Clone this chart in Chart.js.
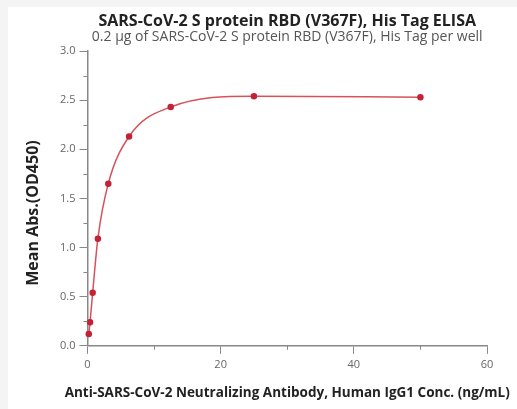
<!DOCTYPE html>
<html>
<head>
<meta charset="utf-8">
<script src="https://cdn.jsdelivr.net/npm/chart.js@4"></script>
<style>
  body { margin: 0; background: #f4f4f4; }
  #wrap { position: absolute; left: 8px; top: 7px; width: 509px; height: 402px; background: #fff; }
</style>
</head>
<body>
<div id="wrap"><canvas id="elisa" width="509" height="402"></canvas></div>
<script>
// antibody concentration (ng/mL) and mean OD450
const conc = [0.195, 0.39, 0.78, 1.5625, 3.125, 6.25, 12.5, 25, 50];
const od450 = [0.12, 0.24, 0.54, 1.09, 1.65, 2.13, 2.43, 2.54, 2.53];
const xTicks = [0, 20, 40, 60];
const yTicks = [0.0, 0.5, 1.0, 1.5, 2.0, 2.5, 3.0];

const titleText = 'SARS-CoV-2 S protein RBD (V367F), His Tag ELISA';
const subText = '0.2 \u00b5g of SARS-CoV-2 S protein RBD (V367F), His Tag per well';
const yTitle = 'Mean Abs.(OD450)';
const xTitle = 'Anti-SARS-CoV-2 Neutralizing Antibody, Human IgG1 Conc. (ng/mL)';

const isMajorY = v => yTicks.some(t => Math.abs(t - v) < 1e-6);
const isMajorX = v => xTicks.includes(v);

// titles (the x title is wider than the plot, chart.js would squeeze it) and short minor ticks
const extras = {
  id: 'extras',
  afterDraw(chart) {
    const ctx = chart.ctx;
    const area = chart.chartArea;
    const cx = (area.left + area.right) / 2;
    ctx.save();
    ctx.textAlign = 'center';
    ctx.textBaseline = 'middle';
    ctx.fillStyle = '#222';
    ctx.font = 'bold 16px "Open Sans"';
    ctx.fillText(titleText, cx, 14);
    ctx.fillStyle = '#555';
    ctx.font = '14px "Open Sans"';
    ctx.fillText(subText, cx, 30);

    ctx.fillStyle = '#222';
    ctx.font = 'bold 13.5px "Open Sans"';
    ctx.fillText(xTitle, cx, 386);

    ctx.save();
    ctx.translate(25, 206);
    ctx.rotate(-Math.PI / 2);
    ctx.font = 'bold 16px "Open Sans"';
    ctx.fillText(yTitle, 0, 0);
    ctx.restore();

    ctx.strokeStyle = '#888';
    ctx.lineWidth = 1;
    const ys = chart.scales.y, xs = chart.scales.x;
    ys.ticks.forEach(t => {
      if (isMajorY(t.value)) return;
      const p = Math.round(ys.getPixelForValue(t.value)) + 0.5;
      ctx.beginPath();
      ctx.moveTo(area.left - 4, p);
      ctx.lineTo(area.left, p);
      ctx.stroke();
    });
    xs.ticks.forEach(t => {
      if (isMajorX(t.value)) return;
      const p = Math.round(xs.getPixelForValue(t.value)) + 0.5;
      ctx.beginPath();
      ctx.moveTo(p, area.bottom);
      ctx.lineTo(p, area.bottom + 4);
      ctx.stroke();
    });
    ctx.restore();
  }
};

const points = conc.map((c, i) => ({ x: c, y: od450[i] }));

new Chart(document.getElementById('elisa'), {
  type: 'scatter',
  data: {
    datasets: [{
      data: points,
      showLine: true,
      cubicInterpolationMode: 'monotone',
      borderColor: '#d6525a',
      borderWidth: 1.5,
      pointBackgroundColor: '#c42236',
      pointBorderColor: '#c42236',
      pointRadius: 2.5,
      clip: false
    }]
  },
  options: {
    responsive: false,
    animation: false,
    layout: { padding: { top: 44, right: 30, left: 48, bottom: 34 } },
    plugins: {
      legend: { display: false },
      tooltip: { enabled: false }
    },
    scales: {
      x: {
        type: 'linear',
        min: 0,
        max: 60,
        ticks: {
          stepSize: 10,
          color: '#666',
          font: { family: 'Open Sans', size: 11 },
          padding: 4,
          callback: v => isMajorX(v) ? String(v) : ''
        },
        grid: {
          drawOnChartArea: false,
          tickLength: 8,
          tickColor: c => isMajorX(c.tick.value) ? '#888' : 'rgba(0,0,0,0)'
        },
        border: { color: '#888', width: 1.5 }
      },
      y: {
        min: 0,
        max: 3,
        ticks: {
          stepSize: 0.25,
          color: '#666',
          font: { family: 'Open Sans', size: 11 },
          padding: 4,
          callback: v => isMajorY(v) ? v.toFixed(1) : ''
        },
        grid: {
          drawOnChartArea: false,
          tickLength: 8,
          tickColor: c => isMajorY(c.tick.value) ? '#888' : 'rgba(0,0,0,0)'
        },
        border: { color: '#888', width: 1.5 }
      }
    }
  },
  plugins: [extras]
});
</script>
</body>
</html>
